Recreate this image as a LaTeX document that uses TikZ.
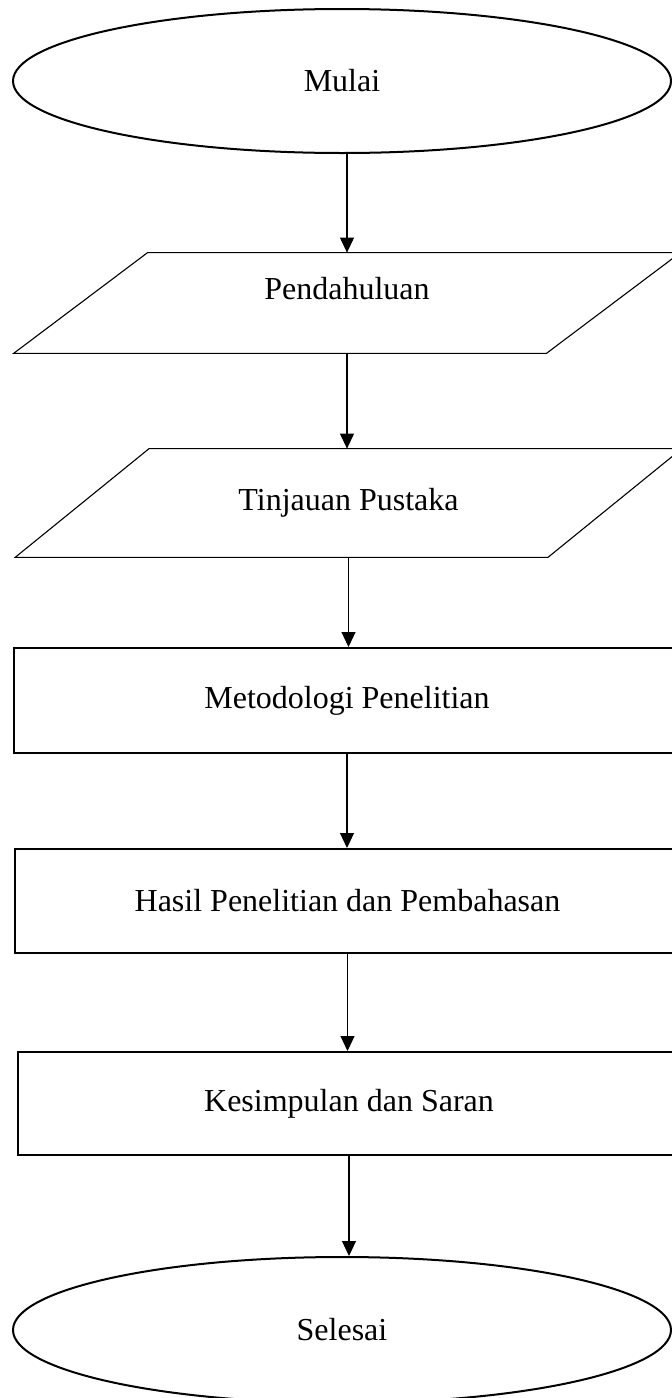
\documentclass[tikz,border=0pt]{standalone}
\usepackage{fontspec}
\setmainfont{Liberation Serif}
\usetikzlibrary{shapes.geometric,arrows.meta}

\begin{document}
\begin{tikzpicture}[x=0.5pt,y=-0.5pt,font=\fontsize{16pt}{19pt}\selectfont,terminal/.style={ellipse,draw,line width=1pt,inner sep=0pt,minimum width=329pt,minimum height=72pt},inout/.style={rectangle,inner sep=0pt,minimum width=266pt,minimum height=50pt},slant/.style={line width=0.55pt},process/.style={rectangle,draw,line width=1pt,inner sep=0pt,minimum width=333pt},flow/.style={-{Triangle[length=7.5pt,width=7pt]},line width=0.55pt}]
\useasboundingbox (0,0) rectangle (672,1398);
\clip (0,0) rectangle (672,1398);
\node[terminal] (mulai) at (342,81) {Mulai};
\node[inout,text depth=15pt] (pend) at (347,303) {Pendahuluan};
\node[inout,minimum height=54pt] (tinjau) at (348.5,503) {Tinjauan Pustaka};
\node[process,minimum height=52.5pt] (metode) at (347,700.5) {Metodologi Penelitian};
\node[process,minimum height=52pt] (hasil) at (347.5,901) {Hasil Penelitian dan Pembahasan};
\node[process,minimum width=331pt,minimum height=51.5pt] (simpul) at (349,1103.5) {Kesimpulan dan Saran};
\node[terminal,minimum height=73pt] (selesai) at (342,1330) {Selesai};
\draw[slant] ([xshift=-33.5pt]pend.south west) -- ([xshift=-33.5pt]pend.south east) -- ([xshift=33.5pt]pend.north east) -- ([xshift=33.5pt]pend.north west) -- cycle;
\draw[slant] ([xshift=-33.5pt]tinjau.south west) -- ([xshift=-33.5pt]tinjau.south east) -- ([xshift=33.5pt]tinjau.north east) -- ([xshift=33.5pt]tinjau.north west) -- cycle;
\draw[flow] (mulai.south -| pend.north) -- (pend.north);
\draw[flow] (pend.south) -- (pend.south |- tinjau.north);
\draw[flow] (tinjau.south) -- (tinjau.south |- metode.north);
\draw[flow] (metode.south) -- (metode.south |- hasil.north);
\draw[flow] (hasil.south) -- (hasil.south |- simpul.north);
\draw[flow] (simpul.south) -- (simpul.south |- selesai.north);
\end{tikzpicture}
\end{document}
